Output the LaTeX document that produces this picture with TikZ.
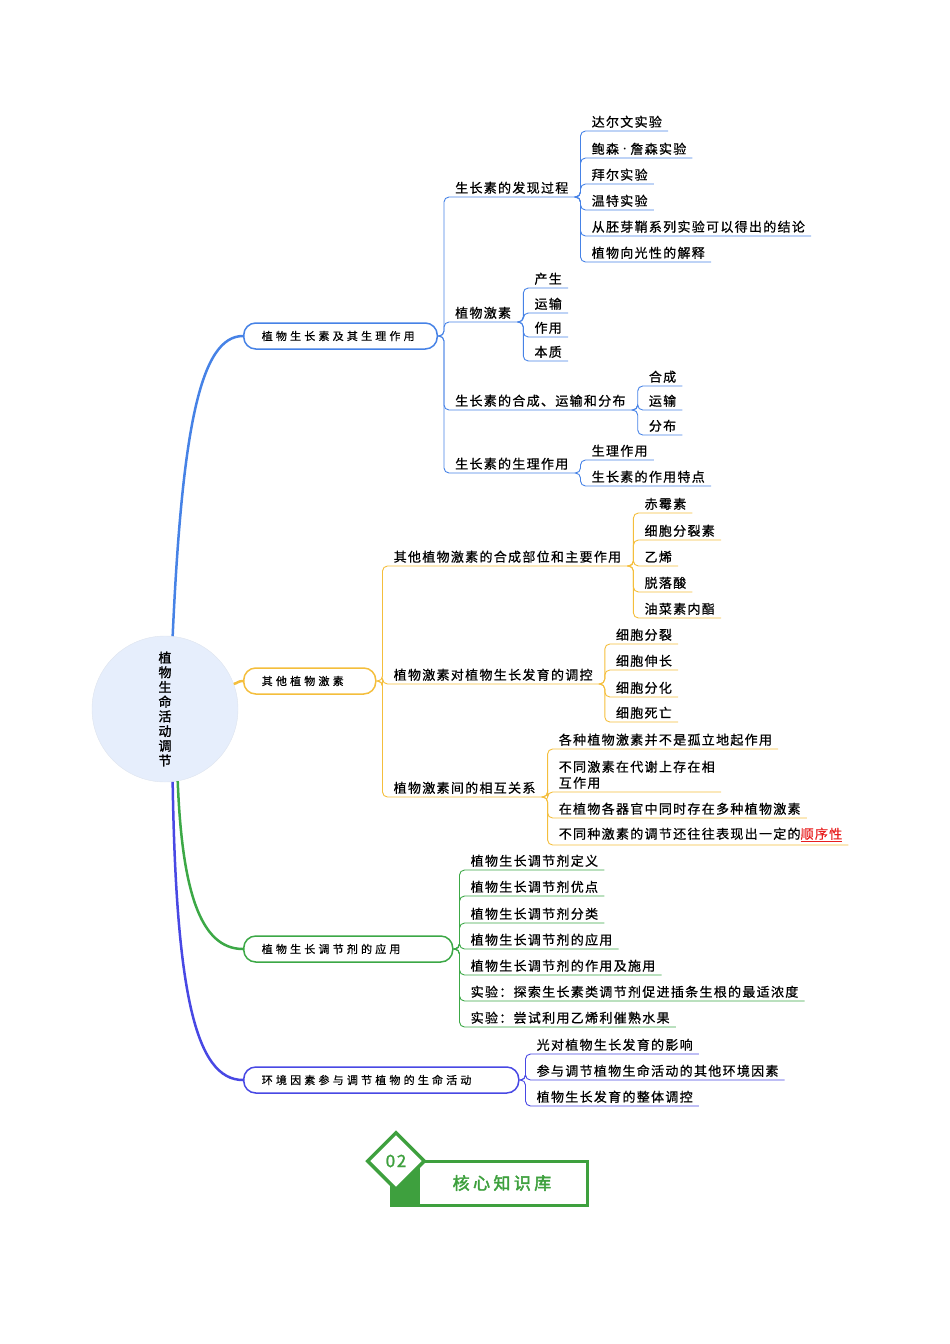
\documentclass[tikz,border=0pt]{standalone}
\usepackage{fontspec}
\usetikzlibrary{shapes.geometric}
\newfontfamily\cjk[LetterSpace=10,AutoFakeBold=1.5]{Noto Sans CJK SC}
\newfontfamily\cjkleaf[LetterSpace=10,FakeBold=0.7]{Noto Sans CJK SC}
\newfontfamily\cjkwide[LetterSpace=29,FakeBold=0.5]{Noto Sans CJK SC}
\newfontfamily\cjkbadge[LetterSpace=20,AutoFakeBold=2.5]{Noto Sans CJK SC}
\definecolor{bblue}{RGB}{70,130,230}
\definecolor{byellow}{RGB}{244,190,60}
\definecolor{bgreen}{RGB}{60,168,70}
\definecolor{bviolet}{RGB}{72,72,228}
\definecolor{rootfill}{RGB}{230,238,252}
\definecolor{rootline}{RGB}{222,228,238}
\definecolor{kgreen}{RGB}{62,160,62}
\definecolor{cred}{RGB}{232,30,30}
\begin{document}
\begin{tikzpicture}[x=1pt,y=-1pt,
    pill/.style={draw=#1,anchor=west,fill=white,line width=1.5pt,rounded corners=12pt,
      minimum height=26pt,inner xsep=18pt,align=left,font=\cjkwide\fontsize{11}{13}\selectfont},
    leaf/.style={anchor=south west,inner xsep=6pt,inner ysep=3pt,align=left,
      font=\cjkleaf\fontsize{13}{16}\selectfont},
    link/.style={line width=0.9pt,rounded corners=5pt},
    trunk/.style={line width=2.5pt}]
  \useasboundingbox (0,0) rectangle (950,1344);

  % centre and main branches
  \node[circle,fill=rootfill,draw=rootline,minimum size=146pt,inner sep=0pt,align=center,
    font=\cjk\bfseries\fontsize{13}{14.7}\selectfont] (root) at (165,709) {植\\物\\生\\命\\活\\动\\调\\节};
  \node[pill=bblue,text width=157.5pt] (b1) at (243,336) {植物生长素及其生理作用};
  \node[pill=byellow,text width=96pt] (b2) at (243,681) {其他植物激素};
  \node[pill=bgreen,text width=173pt] (b3) at (243,949) {植物生长调节剂的应用};
  \node[pill=bviolet,text width=239pt] (b4) at (243,1080) {环境因素参与调节植物的生命活动};
  \draw[trunk,bblue] (root.84) .. controls (182,430) and (200,336) .. (b1.west);
  \draw[trunk,byellow] (root.20) .. controls (238,683) and (238,681) .. (b2.west);
  \draw[trunk,bgreen] (root.-80) .. controls (182,890) and (200,949) .. (b3.west);
  \draw[trunk,bviolet] (root.-84) .. controls (176,990) and (195,1080) .. (b4.west);

  % branch 1
  \coordinate (b1-s) at ([xshift=11pt]b1.east);
  \foreach \u/\t/\n in {197/生长素的发现过程/b1a,322/植物激素/b1b,410/生长素的合成、运输和分布/b1c,473/生长素的生理作用/b1d}{
    \node[leaf] (\n) at (b1-s |- 0,\u) {\t};
    \draw[link,bblue] (b1.east) -- ++(6,0) |- (\n.south east);
  }
  \coordinate (b1a-s) at ([xshift=11pt]b1a.south east);
  \foreach \u/\t [count=\i] in {131/达尔文实验,158/{鲍森{\rmfamily\bfseries ·}詹森实验},184/拜尔实验,210/温特实验,236/从胚芽鞘系列实验可以得出的结论,262/植物向光性的解释}{
    \node[leaf] (b1a\i) at (b1a-s |- 0,\u) {\t};
    \draw[link,bblue] (b1a.south east) -- ++(6,0) |- (b1a\i.south east);
  }
  \coordinate (b1b-s) at ([xshift=11pt]b1b.south east);
  \foreach \u/\t [count=\i] in {288/产生,313/运输,337/作用,361/本质}{
    \node[leaf] (b1b\i) at (b1b-s |- 0,\u) {\t};
    \draw[link,bblue] (b1b.south east) -- ++(6,0) |- (b1b\i.south east);
  }
  \coordinate (b1c-s) at ([xshift=11pt]b1c.south east);
  \foreach \u/\t [count=\i] in {386/合成,410/运输,435/分布}{
    \node[leaf] (b1c\i) at (b1c-s |- 0,\u) {\t};
    \draw[link,bblue] (b1c.south east) -- ++(6,0) |- (b1c\i.south east);
  }
  \coordinate (b1d-s) at ([xshift=11pt]b1d.south east);
  \foreach \u/\t [count=\i] in {460/生理作用,486/生长素的作用特点}{
    \node[leaf] (b1d\i) at (b1d-s |- 0,\u) {\t};
    \draw[link,bblue] (b1d.south east) -- ++(6,0) |- (b1d\i.south east);
  }

  % branch 2
  \coordinate (b2-s) at ([xshift=11pt]b2.east);
  \foreach \u/\t/\n in {566/其他植物激素的合成部位和主要作用/b2a,684/植物激素对植物生长发育的调控/b2b,797/植物激素间的相互关系/b2c}{
    \node[leaf] (\n) at (b2-s |- 0,\u) {\t};
    \draw[link,byellow] (b2.east) -- ++(6,0) |- (\n.south east);
  }
  \coordinate (b2a-s) at ([xshift=11pt]b2a.south east);
  \foreach \u/\t [count=\i] in {513/赤霉素,540/细胞分裂素,566/乙烯,592/脱落酸,618/油菜素内酯}{
    \node[leaf] (b2a\i) at (b2a-s |- 0,\u) {\t};
    \draw[link,byellow] (b2a.south east) -- ++(6,0) |- (b2a\i.south east);
  }
  \coordinate (b2b-s) at ([xshift=11pt]b2b.south east);
  \foreach \u/\t [count=\i] in {644/细胞分裂,670/细胞伸长,697/细胞分化,722/细胞死亡}{
    \node[leaf] (b2b\i) at (b2b-s |- 0,\u) {\t};
    \draw[link,byellow] (b2b.south east) -- ++(6,0) |- (b2b\i.south east);
  }
  \coordinate (b2c-s) at ([xshift=11pt]b2c.south east);
  \foreach \u/\t [count=\i] in {749/各种植物激素并不是孤立地起作用,792/{不同激素在代谢上存在相\\互作用},818/在植物各器官中同时存在多种植物激素,845/{不同种激素的调节还往往表现出一定的\textcolor{cred}{\underline{顺序性}}}}{
    \node[leaf] (b2c\i) at (b2c-s |- 0,\u) {\t};
    \draw[link,byellow] (b2c.south east) -- ++(6,0) |- (b2c\i.south east);
  }

  % branch 3
  \coordinate (b3-s) at ([xshift=11pt]b3.east);
  \foreach \u/\t [count=\i] in {870/植物生长调节剂定义,896/植物生长调节剂优点,923/植物生长调节剂分类,949/植物生长调节剂的应用,975/植物生长调节剂的作用及施用,1001/实验：探索生长素类调节剂促进插条生根的最适浓度,1027/实验：尝试利用乙烯利催熟水果}{
    \node[leaf] (b3\i) at (b3-s |- 0,\u) {\t};
    \draw[link,bgreen] (b3.east) -- ++(6,0) |- (b3\i.south east);
  }

  % branch 4
  \coordinate (b4-s) at ([xshift=11pt]b4.east);
  \foreach \u/\t [count=\i] in {1054/光对植物生长发育的影响,1080/参与调节植物生命活动的其他环境因素,1106/植物生长发育的整体调控}{
    \node[leaf] (b4\i) at (b4-s |- 0,\u) {\t};
    \draw[link,bviolet] (b4.east) -- ++(6,0) |- (b4\i.south east);
  }

  % badge
  \node[draw=kgreen,line width=3pt,minimum width=196pt,minimum height=44pt,anchor=north west,inner sep=0pt] (kbox) at (390,1160) {};
  \fill[kgreen] (kbox.north west) rectangle ([xshift=30pt]kbox.south west);
  \node[diamond,draw=kgreen,fill=white,line width=3.5pt,minimum size=58pt,inner sep=0pt,text=kgreen,
    font=\cjk\bfseries\fontsize{17}{20}\selectfont] (knum) at (396,1161) {02};
  \node[text=kgreen,font=\cjkbadge\bfseries\fontsize{17}{20}\selectfont] (ktitle) at (502,1183) {核心知识库};
\end{tikzpicture}
\end{document}
